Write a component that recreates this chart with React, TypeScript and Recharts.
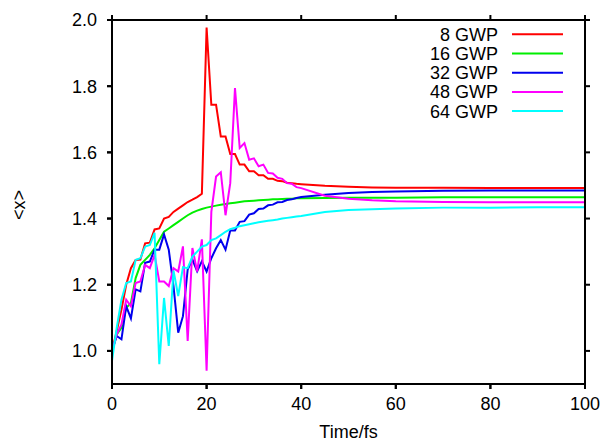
import React from 'react';
import { LineChart, Line, XAxis, YAxis, Legend } from 'recharts';

// time axis (fs): 1 fs steps early on, coarser once the curves have settled
const time = [
    0, 1, 2, 3, 4, 5, 6, 7, 8, 9, 10, 11, 12, 13, 14, 15, 16, 17, 18, 19, 20,
    21, 22, 23, 24, 25, 26, 27, 28, 29, 30, 31, 32, 33, 34, 35, 36, 37, 38, 39, 40,
    45, 50, 55, 60, 70, 80, 90, 100,
];

const gwp8 = [
    1.0, 1.06, 1.125, 1.2, 1.25, 1.275, 1.276, 1.325, 1.327, 1.367, 1.37, 1.4, 1.405, 1.42, 1.43, 1.44, 1.45, 1.457, 1.465, 1.475, 1.977,
    1.744, 1.744, 1.648, 1.648, 1.595, 1.595, 1.563, 1.563, 1.543, 1.543, 1.531, 1.531, 1.52, 1.52, 1.514, 1.513, 1.508, 1.507, 1.505, 1.504,
    1.499, 1.496, 1.494, 1.493, 1.493, 1.492, 1.492, 1.492,
];

const gwp16 = [
    1.0, 1.05, 1.07, 1.13, 1.145, 1.22, 1.26, 1.275, 1.29, 1.31, 1.335, 1.36, 1.37, 1.38, 1.39, 1.4, 1.41, 1.418, 1.424, 1.429, 1.433,
    1.436, 1.439, 1.442, 1.444, 1.446, 1.448, 1.45, 1.452, 1.453, 1.454, 1.455, 1.456, 1.457, 1.458, 1.458, 1.459, 1.46, 1.46, 1.461, 1.461,
    1.462, 1.463, 1.463, 1.463, 1.464, 1.464, 1.464, 1.464,
];

const gwp32 = [
    1.0, 1.045, 1.035, 1.135, 1.098, 1.186, 1.18, 1.266, 1.27, 1.306, 1.306, 1.352, 1.306, 1.196, 1.055, 1.105, 1.246, 1.276, 1.241, 1.271, 1.24,
    1.28, 1.31, 1.335, 1.306, 1.364, 1.364, 1.39, 1.392, 1.412, 1.416, 1.429, 1.43, 1.44, 1.442, 1.449, 1.45, 1.456, 1.458, 1.462, 1.465,
    1.472, 1.477, 1.48, 1.482, 1.484, 1.485, 1.485, 1.485,
];

const gwp48 = [
    1.0, 1.05, 1.08, 1.155, 1.135, 1.205, 1.21, 1.26, 1.25, 1.29, 1.21, 1.21, 1.196, 1.25, 1.24, 1.316, 1.03, 1.311, 1.24, 1.337, 0.94,
    1.42, 1.527, 1.54, 1.41, 1.507, 1.794, 1.613, 1.628, 1.578, 1.582, 1.558, 1.563, 1.538, 1.536, 1.523, 1.52, 1.507, 1.505, 1.495, 1.492,
    1.469, 1.46, 1.455, 1.452, 1.45, 1.449, 1.449, 1.449,
];

const gwp64 = [
    0.97, 1.07, 1.155, 1.205, 1.21, 1.275, 1.28, 1.315, 1.32, 1.357, 0.96, 1.16, 1.015, 1.243, 1.166, 1.253, 1.25, 1.285, 1.3, 1.315, 1.32,
    1.335, 1.34, 1.35, 1.36, 1.368, 1.372, 1.377, 1.38, 1.383, 1.386, 1.389, 1.391, 1.393, 1.395, 1.397, 1.4, 1.402, 1.404, 1.406, 1.408,
    1.42, 1.426, 1.428, 1.43, 1.433, 1.433, 1.434, 1.434,
];

const xTicks = [0, 20, 40, 60, 80, 100];
const yTicks = [1.0, 1.2, 1.4, 1.6, 1.8, 2.0];
const X_DOMAIN = [0, 100];
const Y_DOMAIN = [0.9, 2.0];

const series = [
    { key: 'gwp8', name: '8 GWP', color: '#ff0000', values: gwp8 },
    { key: 'gwp16', name: '16 GWP', color: '#00ee00', values: gwp16 },
    { key: 'gwp32', name: '32 GWP', color: '#0000ee', values: gwp32 },
    { key: 'gwp48', name: '48 GWP', color: '#ff00ff', values: gwp48 },
    { key: 'gwp64', name: '64 GWP', color: '#00ffff', values: gwp64 },
];

const data = time.map((t, i) => {
    const row: Record<string, number> = { t };
    series.forEach(s => { row[s.key] = s.values[i]; });
    return row;
});

const FONT = '"Liberation Sans", Arial, sans-serif';
const INK = '#000';

// chart box and the plot rectangle it leaves (margins + axis sizes)
const W = 601;
const H = 446;
const MARGIN = { top: 20, right: 16, bottom: 32, left: 0 };
const Y_AXIS_W = 112;
const X_AXIS_H = 30;
const plot = {
    left: MARGIN.left + Y_AXIS_W,
    right: W - MARGIN.right,
    top: MARGIN.top,
    bottom: H - MARGIN.bottom - X_AXIS_H,
};
const px = (t: number) => plot.left + ((t - X_DOMAIN[0]) / (X_DOMAIN[1] - X_DOMAIN[0])) * (plot.right - plot.left);
const py = (v: number) => plot.bottom - ((v - Y_DOMAIN[0]) / (Y_DOMAIN[1] - Y_DOMAIN[0])) * (plot.bottom - plot.top);

// gnuplot-style border with outward ticks, drawn as filled bars
const Frame = () => {
    const w = plot.right - plot.left;
    const h = plot.bottom - plot.top;
    return (
        <svg
            width={W}
            height={H}
            style={{ position: 'absolute', left: 0, top: 0, pointerEvents: 'none' }}
        >
            <rect x={plot.left - 1} y={plot.top - 1} width={w + 2} height={2} fill={INK} />
            <rect x={plot.left - 1} y={plot.bottom - 1} width={w + 2} height={2} fill={INK} />
            <rect x={plot.left - 1} y={plot.top - 1} width={2} height={h + 2} fill={INK} />
            <rect x={plot.right - 1} y={plot.top - 1} width={2} height={h + 2} fill={INK} />
            {xTicks.map(t => (
                <g key={'x' + t}>
                    <rect x={px(t) - 1} y={plot.bottom} width={2} height={5} fill={INK} />
                    <rect x={px(t) - 1} y={plot.top - 5} width={2} height={5} fill={INK} />
                </g>
            ))}
            {yTicks.map(v => (
                <g key={'y' + v}>
                    <rect x={plot.left - 5} y={py(v) - 1} width={5} height={2} fill={INK} />
                    <rect x={plot.right} y={py(v) - 1} width={5} height={2} fill={INK} />
                </g>
            ))}
        </svg>
    );
};

// keep the series order instead of the legend's sorted payload
const LegendBox = () => (
    <svg width={200} height={110} style={{ display: 'block', overflow: 'visible' }}>
        {series.map((s, i) => {
            const cy = 14.3 + i * 19.2;
            return (
                <g key={s.key}>
                    <text x={118} y={cy + 6.5} textAnchor="end" fontSize={18} fontFamily={FONT} fill="#000">
                        {s.name}
                    </text>
                    <line x1={132} x2={183} y1={cy} y2={cy} stroke={s.color} strokeWidth={2} />
                </g>
            );
        })}
    </svg>
);

const App: React.FC = () => {
    return (
        <div style={{ position: 'absolute', left: 0, top: 0, width: W, height: H, fontFamily: FONT }}>
            <LineChart width={W} height={H} data={data} margin={MARGIN}>
                <XAxis
                    dataKey="t"
                    type="number"
                    domain={X_DOMAIN}
                    ticks={xTicks}
                    height={X_AXIS_H}
                    stroke={INK}
                    strokeWidth={2}
                    tickSize={5}
                    tickMargin={8}
                    tick={{ fill: '#000', stroke: 'none', fontSize: 18, fontFamily: FONT }}
                    label={{
                        content: () => (
                            <text x={(plot.left + plot.right) / 2} y={438} textAnchor="middle" fontSize={18} fontFamily={FONT} fill="#000">
                                Time/fs
                            </text>
                        ),
                    }}
                />
                <YAxis
                    type="number"
                    domain={Y_DOMAIN}
                    ticks={yTicks}
                    width={Y_AXIS_W}
                    stroke={INK}
                    strokeWidth={2}
                    tickSize={5}
                    tickMargin={10}
                    tickFormatter={(v: number) => v.toFixed(1)}
                    tick={{ fill: '#000', stroke: 'none', fontSize: 18, fontFamily: FONT }}
                    label={{
                        content: () => (
                            <text
                                x={25}
                                y={205}
                                transform="rotate(-90 25 205)"
                                textAnchor="middle"
                                fontSize={18}
                                fontFamily={FONT}
                                fill="#000"
                            >
                                {'<x>'}
                            </text>
                        ),
                    }}
                />
                <Legend
                    layout="vertical"
                    align="center"
                    verticalAlign="middle"
                    content={LegendBox}
                    wrapperStyle={{ position: 'absolute', left: 380, top: 20, width: 200, height: 110 }}
                />
                {series.map(s => (
                    <Line
                        key={s.key}
                        dataKey={s.key}
                        name={s.name}
                        type="linear"
                        stroke={s.color}
                        strokeWidth={2}
                        dot={false}
                        activeDot={false}
                        isAnimationActive={false}
                    />
                ))}
            </LineChart>
            <Frame />
        </div>
    );
};

export default App;
